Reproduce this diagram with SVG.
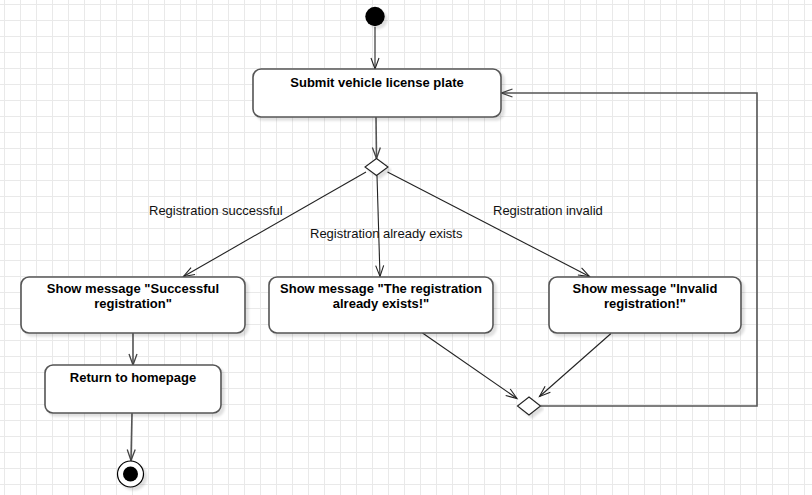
<svg xmlns="http://www.w3.org/2000/svg" width="812" height="495" viewBox="0 0 812 495">
  <defs>
    <pattern id="grid" x="4" y="4" width="16" height="16" patternUnits="userSpaceOnUse">
      <path d="M0.5 0 V16 M0 0.5 H16" stroke="#e9e9e9" stroke-width="1" fill="none"/>
    </pattern>
    <filter id="shadow" x="-10%" y="-10%" width="125%" height="140%">
      <feDropShadow dx="3" dy="3" stdDeviation="1.2" flood-color="#000" flood-opacity="0.12"/>
    </filter>
    <marker id="arrDark" markerUnits="userSpaceOnUse" markerWidth="14" markerHeight="12" refX="12" refY="5" orient="auto" overflow="visible">
      <path d="M1 1 L12 5 L1 9" fill="none" stroke="#222" stroke-width="1.1"/>
    </marker>
    <marker id="arrGray" markerUnits="userSpaceOnUse" markerWidth="14" markerHeight="12" refX="12" refY="5" orient="auto" overflow="visible">
      <path d="M1 1 L12 5 L1 9" fill="none" stroke="#444" stroke-width="1.3"/>
    </marker>
  </defs>
  <style>
    .box { fill: #ffffff; stroke: #555555; stroke-width: 1.6; }
    .dia { fill: #ffffff; stroke: #222222; stroke-width: 1.1; }
    .t { font-family: "Liberation Sans", Arial, sans-serif; font-size: 13px; font-weight: bold; fill: #000; text-anchor: middle; }
    .lbl { font-family: "Liberation Sans", Arial, sans-serif; font-size: 13px; fill: #111; }
    .cd { fill: none; stroke: #222222; stroke-width: 1.1; }
    .cg { fill: none; stroke: #555555; stroke-width: 1.6; }
  </style>

  <rect x="0" y="0" width="812" height="495" fill="#ffffff"/>
  <rect x="0" y="0" width="812" height="495" fill="url(#grid)"/>

  <g id="connectors">
    <line class="cd" x1="375" y1="27" x2="375" y2="69" marker-end="url(#arrDark)"/>
    <line class="cg" x1="376" y1="117" x2="376.5" y2="158.5" marker-end="url(#arrGray)"/>
    <line class="cd" x1="366" y1="172" x2="183.5" y2="276.5" marker-end="url(#arrDark)"/>
    <line class="cd" x1="377" y1="175.5" x2="380" y2="276.5" marker-end="url(#arrDark)"/>
    <line class="cd" x1="387.5" y1="172" x2="589.5" y2="276.5" marker-end="url(#arrDark)"/>
    <line class="cg" x1="133" y1="333" x2="133" y2="365" marker-end="url(#arrGray)"/>
    <line class="cg" x1="132" y1="413" x2="131" y2="460.5" marker-end="url(#arrGray)"/>
    <line class="cd" x1="422.5" y1="333" x2="517" y2="398.5" marker-end="url(#arrDark)"/>
    <line class="cd" x1="611" y1="333.5" x2="539.5" y2="396.5" marker-end="url(#arrDark)"/>
    <polyline class="cg" points="540.5,406 757,406 757,93 501.5,93" marker-end="url(#arrGray)"/>
    <text class="lbl" x="149" y="214.5">Registration successful</text>
    <text class="lbl" x="310" y="238">Registration already exists</text>
    <text class="lbl" x="493" y="215">Registration invalid</text>
  </g>

  <g id="start">
    <circle cx="375" cy="16.5" r="9.7" fill="#000" filter="url(#shadow)"/>
  </g>

  <g id="submit">
    <rect class="box" x="253" y="69" width="248" height="48" rx="8" filter="url(#shadow)"/>
    <text class="t" x="377" y="86.5">Submit vehicle license plate</text>
  </g>

  <g id="decision">
    <polygon class="dia" points="376.5,158.5 388,167 376.5,175.5 365,167" filter="url(#shadow)"/>
  </g>

  <g id="success">
    <rect class="box" x="21" y="277" width="224" height="56" rx="8" filter="url(#shadow)"/>
    <text class="t" x="133" y="293"><tspan x="133">Show message "Successful</tspan><tspan x="133" dy="15">registration"</tspan></text>
  </g>

  <g id="exists">
    <rect class="box" x="269" y="277" width="224" height="56" rx="8" filter="url(#shadow)"/>
    <text class="t" x="381" y="293"><tspan x="381">Show message "The registration</tspan><tspan x="381" dy="15">already exists!"</tspan></text>
  </g>

  <g id="invalid">
    <rect class="box" x="549" y="277" width="192" height="56" rx="8" filter="url(#shadow)"/>
    <text class="t" x="645" y="293"><tspan x="645">Show message "Invalid</tspan><tspan x="645" dy="15">registration!"</tspan></text>
  </g>

  <g id="homepage">
    <rect class="box" x="45" y="365" width="176" height="48" rx="8" filter="url(#shadow)"/>
    <text class="t" x="133" y="382">Return to homepage</text>
  </g>

  <g id="merge">
    <polygon class="dia" points="529,397 540.5,406 529,415 517.5,406" filter="url(#shadow)"/>
  </g>

  <g id="end">
    <circle cx="130.5" cy="474" r="13" fill="#fff" stroke="#000" stroke-width="1.2" filter="url(#shadow)"/>
    <circle cx="130.5" cy="474" r="7.5" fill="#000"/>
  </g>
</svg>
